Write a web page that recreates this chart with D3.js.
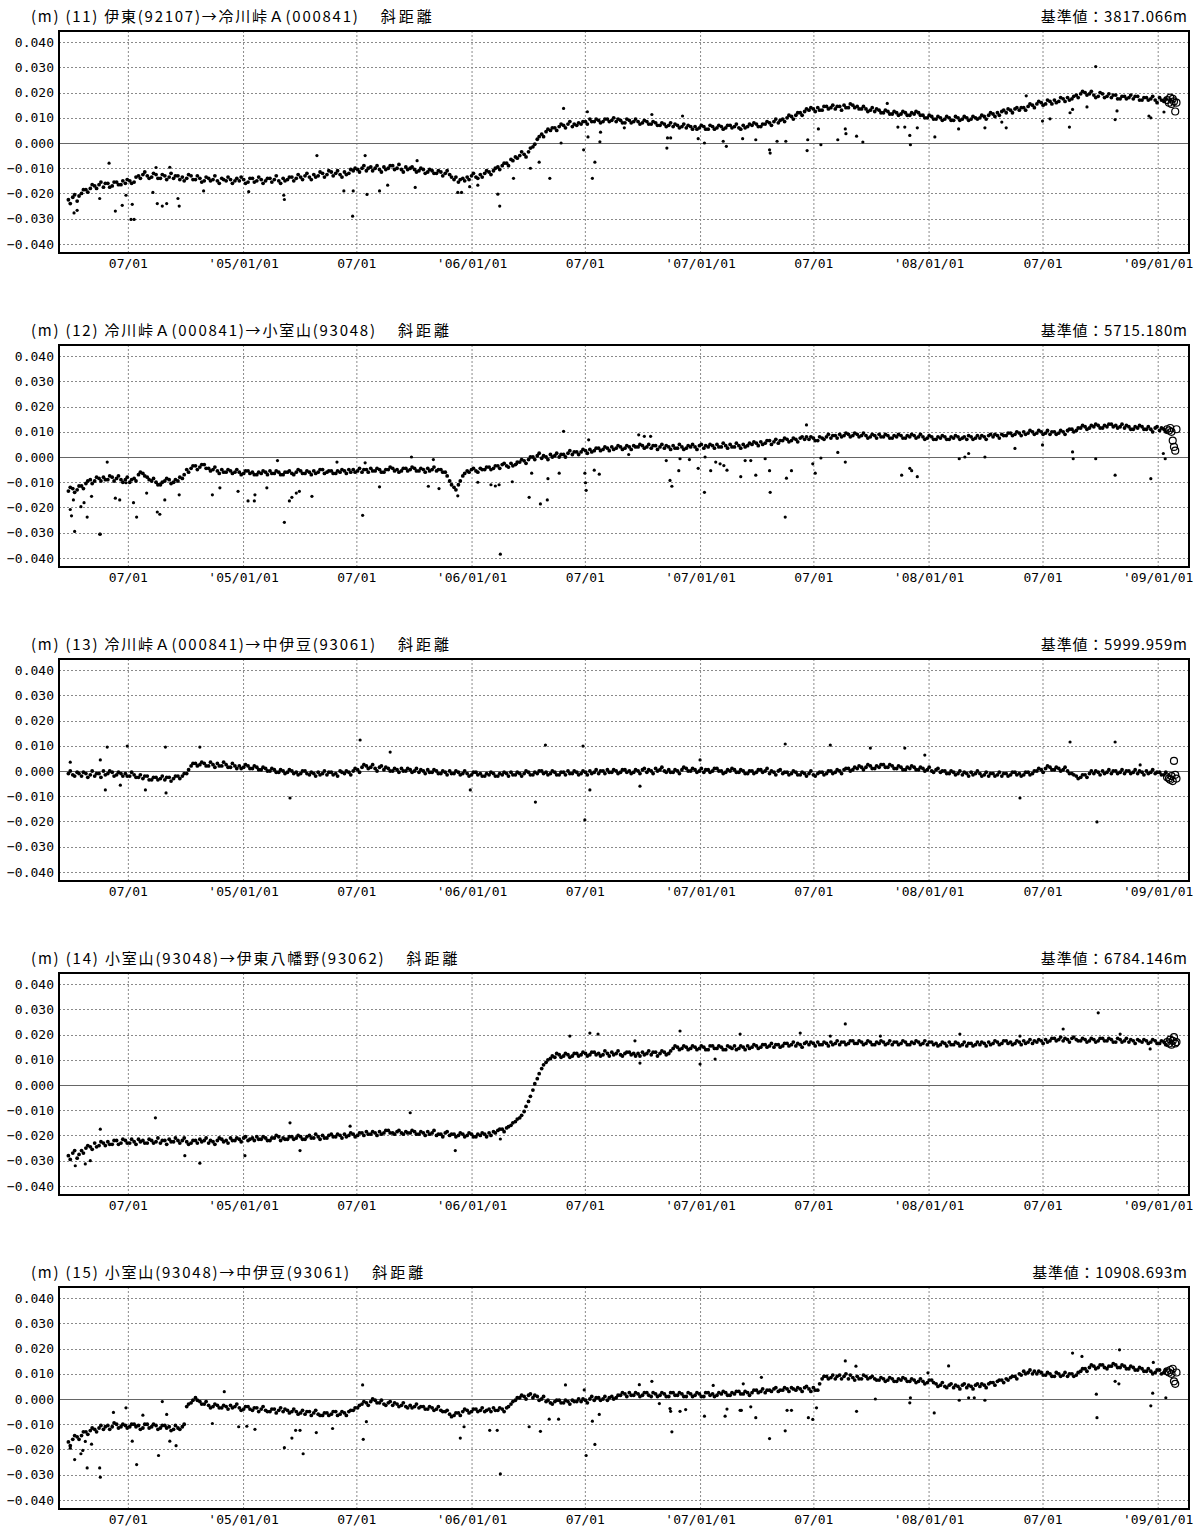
<!DOCTYPE html>
<html>
<head>
<meta charset="utf-8">
<script src="https://cdn.jsdelivr.net/npm/d3@7"></script>
<style>
body { margin: 0; background: #fff; }
svg { display: block; }
.title { font-family: "Noto Sans CJK JP", sans-serif; font-size: 15px; fill: #000; }
.num { font-family: "DejaVu Sans Mono", monospace; font-size: 13px; fill: #000; }
</style>
</head>
<body>
<svg id="chart"></svg>
<script>
// readings in mm: one series every 7 days from startDate, a second one 3 days later
let startDate = '2004-03-28';
let startDateMid = '2004-03-31';
// last readings, drawn as open circles
let recentDates = ['2009-01-16', '2009-01-19', '2009-01-21', '2009-01-23', '2009-01-25', '2009-01-27', '2009-01-29', '2009-01-31'];

let titles = [
    '(m) (11) 伊東(92107)→冷川峠Ａ(000841)',
    '(m) (12) 冷川峠Ａ(000841)→小室山(93048)',
    '(m) (13) 冷川峠Ａ(000841)→中伊豆(93061)',
    '(m) (14) 小室山(93048)→伊東八幡野(93062)',
    '(m) (15) 小室山(93048)→中伊豆(93061)'
];
let baseLabels = ['基準値：3817.066m', '基準値：5715.180m', '基準値：5999.959m', '基準値：6784.146m', '基準値：10908.693m'];

let yTicks = [-0.04, -0.03, -0.02, -0.01, 0, 0.01, 0.02, 0.03, 0.04];
let xTickDates = ['2004-07-01', '2005-01-01', '2005-07-01', '2006-01-01', '2006-07-01', '2007-01-01', '2007-07-01', '2008-01-01', '2008-07-01', '2009-01-01'];
let xTickLabels = ['07/01', "'05/01/01", '07/01', "'06/01/01", '07/01', "'07/01/01", '07/01', "'08/01/01", '07/01', "'09/01/01"];

// (11)
let weekly1 = [
    -22.5, -21.5, -23, -20, -18.5, -18, -17, -16.5, -17.5, -16, -17, -15.5, -16.5,
    -16, -15, -15.5, -13, -12.5, -13, -13.5, -12.5, -14, -13, -13.5, -14, -13,
    -13.5, -14, -13, -14.5, -14, -15, -14, -14.5, -15, -14, -15, -14.5, -15,
    -15, -14.5, -15.5, -14, -15, -14.5, -15, -14, -14.5, -15, -14, -14.5, -13.5,
    -14, -13.5, -13, -13.5, -12.5, -13, -12, -12.5, -11.5, -12, -12.5, -11.5, -12,
    -11, -10.5, -10, -11, -9.5, -10, -10.5, -9.5, -10, -9, -10, -10.5, -9.5,
    -10, -10.5, -11, -10.5, -11.5, -11, -12, -11.5, -12, -12.5, -14.5, -15.5, -14,
    -13.5, -13, -13.5, -12.5, -12, -11.5, -11, -9.5, -9, -8, -6.5, -5.5, -5,
    -4.5, -3.5, -1.5, 1.5, 3.5, 4.5, 5, 6, 6.5, 7, 7.5, 6.5, 7,
    7.5, 8.5, 9.5, 8.5, 9, 8.5, 9.5, 9, 8.5, 9, 8, 9, 8.5,
    8.5, 8, 8.5, 7.5, 8, 7, 7.5, 7, 6.5, 7, 6.5, 6, 6.5,
    6.5, 6, 6.5, 5.5, 6.5, 6, 6.5, 6, 7, 6.5, 6, 7, 6.5,
    7, 7.5, 6.5, 7.5, 8, 8.5, 8, 9.5, 10, 10.5, 11, 12, 12.5,
    13, 13.5, 14, 13, 14.5, 14, 13.5, 14.5, 15, 14, 15, 14.5, 13.5,
    13.5, 13, 12.5, 13, 12, 12.5, 11.5, 12, 11.5, 12, 11, 11.5, 12,
    11, 10, 10.5, 9.5, 10, 9.5, 10, 9, 10, 9.5, 10, 9.5, 10,
    10, 10.5, 11, 11.5, 12, 12.5, 12, 13, 13.5, 13, 14, 14.5, 15,
    15.5, 16, 15.5, 16.5, 17, 16.5, 17.5, 18, 17.5, 19, 19.5, 20, 19.5,
    19, 18.5, 19.5, 18.5, 18, 19, 17.5, 18.5, 18, 17.5, 18.5, 17, 18,
    17.5, 17, 18, 16.5
];
let mid1 = [
    -24, -20.5, -21, -18.5, -19.5, -16.5, -18, -15.5, -16, -17.5, -15.5, -16.5, -15,
    -14.5, -16, -13.5, -14, -11.5, -14, -12, -14, -12.5, -14.5, -12, -13, -14.5,
    -15, -12.5, -14.5, -13, -15.5, -13.5, -15, -13, -16, -14.5, -13.5, -16, -14,
    -13.5, -16, -14, -15.5, -13.5, -16, -14, -15.5, -13, -16, -15, -13.5, -15,
    -12.5, -14.5, -12, -14.5, -13.5, -11.5, -13.5, -11, -13, -11, -13.5, -12.5, -10.5,
    -10, -11.5, -9, -10, -11, -9, -11.5, -10.5, -9, -10.5, -8.5, -11.5, -10.5,
    -9.5, -11.5, -10, -12, -10.5, -12, -11, -13, -11, -13.5, -13.5, -14.5, -15,
    -14.5, -12, -14, -13.5, -11, -12.5, -10, -10.5, -8, -9, -7, -6, -3.5,
    -5.5, -2, -0.5, 2.5, 2.5, 5.5, 6, 5, 7.5, 6, 8.5, 7.5, 8,
    8.5, 7.5, 8.5, 9.5, 8, 9.5, 8.5, 10, 9.5, 8, 9.5, 8, 9.5,
    7.5, 9, 7.5, 8.5, 7, 8, 6.5, 8, 7.5, 6, 7.5, 7, 5.5,
    5.5, 7, 5.5, 7, 5.5, 7, 5.5, 7, 6, 7.5, 5.5, 6, 7.5,
    8, 6.5, 7.5, 8.5, 7, 9.5, 9, 8.5, 11, 9.5, 12, 11, 13.5,
    14, 12.5, 13, 14.5, 13.5, 15, 14.5, 13, 14, 15.5, 14, 13.5, 14.5,
    12.5, 14, 13.5, 12, 13, 11.5, 12.5, 11, 12.5, 11, 12, 12.5, 11,
    10, 11, 9.5, 10.5, 9, 10.5, 9, 10.5, 9, 10.5, 9, 10.5, 9.5,
    11, 9.5, 12, 10.5, 11, 13, 13.5, 12, 14, 14, 13, 15.5, 14,
    16.5, 15, 17, 15.5, 16, 18, 16.5, 17, 18.5, 18, 20.5, 19, 20.5,
    18, 20, 18, 19.5, 19, 17.5, 18.5, 17.5, 19, 18.5, 17, 18, 17,
    18.5, 16, 17, 17.5
];
let recent1 = [17, 16, 18, 15.5, 17.5, 16.5, 12.5, 16];
let outliers1 = [
    ['2004-04-06', -27.7], ['2004-04-11', -26.7], ['2004-05-17', -22], ['2004-06-01', -8], ['2004-06-11', -27],
    ['2004-06-22', -24.7], ['2004-06-28', -20.7], ['2004-07-06', -30.3], ['2004-07-11', -30.3], ['2004-07-08', -24.3],
    ['2004-08-10', -19.6], ['2004-08-15', -9.7], ['2004-08-17', -24], ['2004-08-25', -25], ['2004-09-01', -24],
    ['2004-09-06', -9.6], ['2004-09-19', -22], ['2004-09-21', -25], ['2004-10-30', -19], ['2005-01-10', -19.3],
    ['2005-03-07', -20.7], ['2005-03-08', -22.4], ['2005-04-29', -5], ['2005-06-11', -19], ['2005-06-25', -29],
    ['2005-06-26', -19], ['2005-07-15', -5], ['2005-07-18', -20.4], ['2005-08-07', -19], ['2005-08-20', -16.7],
    ['2005-10-03', -17.6], ['2005-10-06', -7], ['2005-12-10', -19.6], ['2005-12-16', -19.6], ['2005-12-29', -17.3],
    ['2006-01-11', -16.7], ['2006-02-12', -20.3], ['2006-02-15', -25], ['2006-03-09', -14], ['2006-04-05', -10],
    ['2006-04-19', -7.6], ['2006-05-06', -14], ['2006-05-24', 0], ['2006-05-28', 13.7], ['2006-06-29', -2.7],
    ['2006-07-05', 12.4], ['2006-07-06', 2.4], ['2006-07-13', -14], ['2006-07-17', -7.6], ['2006-07-25', 0.5],
    ['2006-07-26', 4.3], ['2006-09-02', 6], ['2006-10-16', 11.3], ['2006-11-09', -2], ['2006-11-10', 2],
    ['2006-11-15', 2], ['2006-12-04', 10.7], ['2006-12-29', 1.7], ['2007-01-08', 0], ['2007-02-12', -1.3],
    ['2007-02-07', 0.7], ['2007-03-10', 1.7], ['2007-03-31', 1.3], ['2007-04-22', -2.7], ['2007-04-23', -4],
    ['2007-05-04', 0.7], ['2007-05-18', 0.7], ['2007-06-21', -3], ['2007-06-22', 1.3], ['2007-07-13', -0.7],
    ['2007-07-09', 5.6], ['2007-08-09', 1.3], ['2007-08-21', 5.6], ['2007-08-22', 3.7], ['2007-09-08', 2.7],
    ['2007-09-18', 0.4], ['2007-10-27', 15.7], ['2007-11-13', 6.3], ['2007-11-24', 6.3], ['2007-12-02', 3],
    ['2007-12-03', -0.7], ['2007-12-14', 6], ['2008-01-11', 2.4], ['2008-02-18', 5.6], ['2008-03-31', 6],
    ['2008-04-27', 8.3], ['2008-05-04', 6], ['2008-06-05', 18.7], ['2008-07-01', 8.7], ['2008-07-13', 9.6],
    ['2008-08-13', 6.3], ['2008-08-14', 12], ['2008-08-18', 13.3], ['2008-09-10', 14.3], ['2008-09-24', 30.3],
    ['2008-10-25', 9.3], ['2008-10-28', 12.7], ['2008-12-18', 10.7], ['2008-12-21', 10], ['2009-01-11', 12.3]
];

// (12)
let weekly2 = [
    -13.5, -12.5, -13, -11.5, -10.5, -9, -9.5, -8.5, -8, -9, -8, -8.5, -9,
    -9, -10, -8.5, -7, -6.5, -8, -9.5, -10, -11, -9.5, -9, -10, -9.5,
    -8.5, -5, -4.5, -3.5, -4, -3, -4.5, -5, -5.5, -5, -6, -5.5, -6,
    -6, -6.5, -5.5, -6, -7, -6.5, -6, -5.5, -6.5, -6, -7, -6, -6.5,
    -6, -5.5, -6.5, -6, -5.5, -6, -5, -6, -5.5, -6.5, -6, -5.5, -5,
    -5, -5.5, -6, -5, -4.5, -5.5, -5, -6, -5, -4.5, -5, -5.5, -4.5,
    -5, -4.5, -5.5, -5, -4.5, -5, -5.5, -5, -6, -9.5, -12, -11, -7.5,
    -5.5, -5, -5.5, -4.5, -5, -4, -4.5, -3.5, -3, -3.5, -2.5, -3, -2,
    -1.5, -1, 0, 0.5, -0.5, 0, 1, 0.5, 0, 1, 1.5, 1, 2,
    2, 2.5, 3, 2.5, 3.5, 3, 3.5, 4, 3.5, 4, 3.5, 4, 4.5,
    4, 4.5, 4, 3.5, 4.5, 4, 3.5, 4, 4.5, 3.5, 4, 3.5, 4,
    4, 4.5, 3.5, 4, 4.5, 5, 4, 4.5, 5, 4, 4.5, 5, 4.5,
    5, 5.5, 6, 5.5, 6.5, 6, 5.5, 6.5, 7, 6.5, 7, 7.5, 7,
    7, 7.5, 6.5, 7.5, 8, 7.5, 8.5, 9, 8.5, 9, 8.5, 9, 8.5,
    8.5, 8, 8.5, 9, 8, 8.5, 7.5, 8, 8.5, 7.5, 8, 8.5, 8,
    8, 7.5, 8, 7, 7.5, 8, 7, 7.5, 8, 7.5, 7, 8, 7.5,
    7.5, 8, 8.5, 8, 8.5, 9, 8.5, 9.5, 9, 9.5, 10, 9.5, 10,
    9.5, 10, 9.5, 9, 10, 9.5, 10, 10.5, 11, 10.5, 11.5, 12, 11.5,
    12, 12.5, 11.5, 12, 13, 12.5, 12, 11.5, 12, 11, 11.5, 12, 11,
    11, 11.5, 10.5, 11
];
let mid2 = [
    -12, -14, -11.5, -12.5, -9.5, -10.5, -8, -9.5, -9, -7.5, -9.5, -7.5, -10,
    -8, -9, -9.5, -6, -7.5, -9, -8.5, -11, -10, -8.5, -10.5, -9, -8,
    -7, -6, -3.5, -5, -3, -4.5, -5.5, -4, -6.5, -6, -5, -6.5, -5,
    -7, -5.5, -6.5, -7, -6, -5.5, -7, -6.5, -5.5, -7, -6, -5.5, -7,
    -5, -6.5, -5.5, -7, -6.5, -5, -6.5, -5.5, -6.5, -5.5, -5, -6.5, -6,
    -6, -4.5, -5, -6, -5.5, -4.5, -6, -5, -4, -5.5, -6, -4.5, -5.5,
    -4, -5.5, -4.5, -6, -5.5, -4, -5, -6, -7.5, -11, -13, -9.5, -6.5,
    -6, -4.5, -6, -5, -4, -5, -3.5, -4.5, -2.5, -4, -3.5, -2, -1,
    -2.5, 0, -1, 1.5, 0.5, -1, 0, 1.5, 1, 0, 2.5, 2, 1,
    3, 1.5, 2, 3.5, 2.5, 4, 2.5, 3, 4.5, 3, 4.5, 3, 4,
    5, 3.5, 5, 4.5, 3, 5, 4.5, 3, 3.5, 5, 3, 4.5, 5,
    3, 5, 4.5, 5, 3.5, 4, 5.5, 3.5, 4, 5.5, 3.5, 4, 5.5,
    6, 4.5, 5, 6.5, 5, 7, 6.5, 7.5, 6, 7.5, 6, 8, 8,
    8, 6.5, 8, 7, 9, 8.5, 7.5, 8, 9.5, 8, 9.5, 8, 9.5,
    7.5, 9, 7.5, 8, 9, 7.5, 8.5, 9, 7.5, 8.5, 9, 7.5, 9,
    7, 8.5, 7, 8, 8.5, 7, 8, 8.5, 7, 8, 8.5, 7, 8.5,
    8.5, 7, 9, 9, 7.5, 8.5, 9.5, 8.5, 10, 8.5, 9, 10.5, 9,
    10.5, 9, 10.5, 10, 9, 10.5, 9, 11, 10, 11.5, 12.5, 11, 12.5,
    13, 11.5, 12.5, 13, 12, 11.5, 13, 12.5, 11, 12, 12.5, 11, 12,
    10, 12, 11.5, 10
];
let recent2 = [11, 10.5, 11.5, 10, 6.5, 4, 2.5, 11];
let outliers2 = [
    ['2004-03-31', -20.8], ['2004-04-02', -23.3], ['2004-04-07', -29.5], ['2004-04-05', -17], ['2004-04-17', -19.7],
    ['2004-04-22', -18.1], ['2004-04-27', -23.8], ['2004-05-04', -15.6], ['2004-05-17', -30.6], ['2004-05-18', -30.6],
    ['2004-05-29', -2], ['2004-06-11', -16.3], ['2004-06-18', -17], ['2004-06-28', -10.2], ['2004-07-10', -18.1],
    ['2004-07-15', -23.8], ['2004-07-31', -14.3], ['2004-08-17', -21.8], ['2004-08-21', -22.7], ['2004-08-29', -17],
    ['2004-09-21', -15], ['2004-11-13', -15], ['2004-11-25', -12.2], ['2004-12-24', -13.6], ['2005-01-09', -17.4],
    ['2005-01-19', -17.4], ['2005-01-20', -15], ['2005-02-08', -12.2], ['2005-02-25', -1.4], ['2005-03-08', -25.9],
    ['2005-03-16', -17.4], ['2005-03-20', -16], ['2005-03-27', -14.3], ['2005-04-01', -13.6], ['2005-04-21', -15.6],
    ['2005-05-31', -2], ['2005-07-11', -23.1], ['2005-07-15', -2.3], ['2005-08-07', -11.8], ['2005-09-27', 0],
    ['2005-10-24', -11.6], ['2005-11-01', -1], ['2005-11-10', -12.5], ['2005-12-10', -15.4], ['2006-01-11', -10],
    ['2006-02-01', -11], ['2006-02-08', -11.5], ['2006-02-14', -11], ['2006-02-16', -38.5], ['2006-03-07', -9.8],
    ['2006-03-14', -2.7], ['2006-04-03', -16], ['2006-04-07', -6.4], ['2006-04-21', -18.6], ['2006-05-02', -17],
    ['2006-05-03', -8.6], ['2006-05-21', -6.4], ['2006-05-28', 10.2], ['2006-07-01', -6.4], ['2006-07-02', -10.2],
    ['2006-07-03', -13.2], ['2006-07-07', 6.8], ['2006-07-16', -5.2], ['2006-07-24', -6.8], ['2006-09-09', 1],
    ['2006-09-25', 8.8], ['2006-10-04', 8.2], ['2006-10-14', 8.2], ['2006-11-08', -1.4], ['2006-11-14', -9.3],
    ['2006-11-17', -11.6], ['2006-11-28', -5.4], ['2006-11-30', -0.7], ['2006-12-15', -1], ['2006-12-29', -4.5],
    ['2007-01-08', -14], ['2007-01-09', 0], ['2007-01-18', -5.4], ['2007-01-26', -2], ['2007-02-02', -2.7],
    ['2007-02-08', -3.4], ['2007-02-13', -5.2], ['2007-03-07', -7.8], ['2007-03-14', -1.4], ['2007-03-23', -1.4],
    ['2007-03-31', -7.2], ['2007-04-15', -0.7], ['2007-04-22', -5.4], ['2007-04-23', -14], ['2007-05-17', -23.8],
    ['2007-05-19', -8.4], ['2007-05-27', -5.4], ['2007-06-20', 12.7], ['2007-06-30', -2.7], ['2007-07-04', -6.4],
    ['2007-07-13', -0.4], ['2007-08-09', 1.8], ['2007-08-21', -2], ['2007-11-19', -7.2], ['2007-12-02', -4.5],
    ['2007-12-05', -5.4], ['2007-12-14', -7.8], ['2008-02-19', -0.7], ['2008-02-28', 0], ['2008-03-05', 1.4],
    ['2008-03-31', 0], ['2008-05-18', 3.4], ['2008-07-01', 4.8], ['2008-08-18', 2], ['2008-08-19', -0.7],
    ['2008-09-24', -0.7], ['2008-10-25', -7.2], ['2008-12-21', -8.6], ['2009-01-10', 1.4], ['2009-01-13', -0.7]
];

// (13)
let weekly3 = [
    -1, -1.5, -0.5, -2, -1, -1.5, -2, -1, 0, -1, -0.5, -1.5, -1,
    -1, -2, -1.5, -2.5, -3, -2, -3.5, -2.5, -3, -3.5, -2.5, -3, -2,
    -2, -1, 2, 3, 2.5, 3, 2, 2.5, 3, 2, 2.5, 1.5, 2,
    2, 1.5, 2, 1, 1.5, 0.5, 1, 0, 0.5, -0.5, 0, -0.5, 0,
    -0.5, -1, 0, -1.5, -1, -0.5, -1, -1.5, -0.5, -1, 0, -1, -0.5,
    0, 0.5, 1.5, 2, 1.5, 1, 1.5, 0.5, 1, 0, 0.5, 1, 0,
    0.5, 0, -0.5, 0, 0.5, -0.5, 0, -1, -0.5, 0, -1, -0.5, -1,
    -1, -1.5, -0.5, -1, -2, -1.5, -1, -2, -1.5, -1, -0.5, -1.5, -1,
    -1, -0.5, -1.5, -1, 0, -0.5, -1, -0.5, -1.5, -0.5, 0, -1, -0.5,
    -1, -0.5, 0, -0.5, -1, 0, 0.5, -0.5, 0, -0.5, 0.5, 0, -0.5,
    0, 0.5, -0.5, 0, 1, 0.5, 0, 0.5, -0.5, 0, 0.5, 1, 0,
    0.5, 0, -0.5, 0.5, 0, 1, 0, -0.5, 0, 0.5, -0.5, 0, -1,
    0, -0.5, 0.5, 0, -1, -0.5, 0, -1, -0.5, -1, -0.5, -1.5, -1,
    -1, -1.5, -1, -0.5, -1, 0, -0.5, 0, 0.5, 1, 0.5, 1, 1.5,
    1.5, 2, 1, 1.5, 2.5, 1.5, 2, 1, 1.5, 0.5, 1, 1.5, 0.5,
    1, 0.5, 0, 0.5, -0.5, 0, -1, -0.5, -1, -1.5, -1, -0.5, -1,
    -1, -1.5, -2, -1, -1.5, -2, -1, -1.5, -0.5, -1, -1.5, -0.5, -1,
    0, 0.5, 1, 1.5, 0.5, 1, 0.5, 0, -1, -2, -2.5, -1.5, -1,
    -1, -0.5, 0, -0.5, -1, 0, -0.5, -1, 0, -0.5, -1, -0.5, 0,
    -0.5, -1, -0.5, -1.5
];
let mid3 = [
    0, -2, -1, -0.5, -2.5, 0, -1, -2.5, -1.5, 0, -2, -0.5, -2,
    -2, -0.5, -2.5, -1.5, -2, -3.5, -2.5, -3.5, -2, -2.5, -4, -2, -3,
    -1, 0.5, 3, 2, 3.5, 2, 3.5, 1.5, 2, 3.5, 1.5, 3, 1,
    1, 2.5, 1, 2, 0.5, 1.5, 0, 1, -0.5, 0.5, -1, 0.5, -1,
    -1.5, 0, -1, -0.5, -2, -1.5, 0, -0.5, -1.5, -2, -0.5, 0, -1.5,
    1, -0.5, 2.5, 1, 2.5, 0, 2, 1.5, 0, 1, -0.5, 0, 1,
    -0.5, 1, 0.5, -1, -0.5, 0.5, -1, 0, -1.5, -1, 0, -1.5, 0,
    -2, -0.5, -1.5, -2, -1, -0.5, -2, -1, -0.5, -2, -1.5, -0.5, -2,
    0, -1.5, -0.5, 0, -1, -1.5, 0, -1.5, -0.5, -1.5, -1, 0, -1.5,
    0, -1.5, -1, 0.5, 0, -1, -0.5, 0.5, -1, 0.5, -0.5, -1, 0.5,
    -1, 1, 0.5, -1, 0, 1.5, -0.5, -0.5, 0.5, -1, 1.5, 0, 1,
    -0.5, 1, 0.5, -0.5, 1, 0, -1, 0.5, 1, -0.5, 0.5, -1, 0,
    -1, 0.5, -0.5, 1, 0, -1.5, 0.5, -0.5, -1.5, 0, -1.5, -0.5, -2,
    0, -2, -0.5, -1.5, 0, -1, 0.5, -1, 1, 0, 1.5, 2, 0.5,
    2.5, 1, 2, 2.5, 1.5, 2.5, 1, 2, 0.5, 1.5, 2, 0.5, 1.5,
    0, 1.5, -0.5, 1, 0, -1, 0, -1.5, 0, -0.5, -2, -1.5, 0,
    -2, -0.5, -1, -2, -0.5, -1, -2, -0.5, -1.5, -2, -0.5, -1.5, 0,
    1, -0.5, 2, 0.5, 1.5, 0, 1.5, -1, -1.5, -3, -1.5, -2.5, 0,
    0, -1.5, -1, 0.5, 0, -1, 0.5, 0, -1, 0.5, 0, -1.5, -1,
    0.5, -0.5, -1.5, -0.5
];
let recent3 = [-2.5, -3, -3.5, -2, -4, 4, -1.5, -3];
let outliers3 = [
    ['2004-03-31', 3.5], ['2004-05-18', 4.4], ['2004-05-29', 9.5], ['2004-06-30', 9.9], ['2004-08-30', 9.5],
    ['2004-10-24', 9.5], ['2004-05-26', -7.5], ['2004-06-19', -5.6], ['2004-07-29', -7.5], ['2004-08-31', -8.7],
    ['2005-03-17', -10.7], ['2005-07-07', 12.3], ['2005-08-24', 7.5], ['2005-12-30', -7.5], ['2006-04-13', -12.3],
    ['2006-04-29', 10.3], ['2006-06-28', 9.9], ['2006-07-01', -19.4], ['2006-07-09', -7.5], ['2006-09-27', -6],
    ['2007-01-01', 4.4], ['2007-05-17', 10.7], ['2007-07-28', 10.3], ['2007-09-30', 9.1], ['2007-11-24', 9.1],
    ['2007-12-26', 6.3], ['2008-05-26', -10.7], ['2008-08-14', 11.5], ['2008-09-26', -20.2], ['2008-10-25', 11.5],
    ['2008-12-04', 2.4]
];

// (14)
let weekly4 = [
    -28, -27, -29, -26, -25, -24.5, -23, -24, -23, -22.5, -23.5, -22, -23,
    -22, -23, -22.5, -21.5, -22, -23, -22, -22.5, -23, -22, -21.5, -22.5, -22,
    -22, -22.5, -23, -22, -21.5, -22, -23, -22.5, -22, -21.5, -22, -21, -22,
    -21.5, -21, -22, -21, -20.5, -21.5, -21, -22, -21, -20.5, -21, -21.5, -20.5,
    -21, -20.5, -21.5, -20, -21, -20.5, -20, -21, -19.5, -20.5, -20, -19.5, -20,
    -19.5, -20, -19, -18.5, -19.5, -19, -18.5, -19, -18, -19, -18.5, -19, -18.5,
    -19, -18.5, -19.5, -19, -18.5, -19, -20, -19.5, -19, -20, -19.5, -20, -19.5,
    -20, -19.5, -20.5, -20, -19.5, -19, -18.5, -18, -17.5, -17, -16, -14.5, -13,
    -10.5, -6.5, -2, 2.5, 6.5, 9, 10.5, 11, 12, 11.5, 12, 11.5, 12.5,
    12, 12.5, 12, 13, 12.5, 12, 12.5, 13, 12.5, 12, 12.5, 13, 12.5,
    12.5, 13, 12.5, 12, 13, 12.5, 13, 12.5, 14.5, 15, 14.5, 15, 14.5,
    15, 14.5, 15, 14, 15.5, 14.5, 15, 14, 15, 15.5, 14.5, 15, 15.5,
    15, 15.5, 15, 16, 15.5, 15, 16, 15.5, 16.5, 16, 15.5, 16, 16.5,
    16, 16.5, 17, 16, 16.5, 17, 16.5, 16, 17, 16.5, 17.5, 16.5, 17,
    16.5, 17, 16, 16.5, 17, 16.5, 16, 17, 16.5, 17, 16, 16.5, 17,
    16.5, 16, 17, 16.5, 16, 16.5, 17, 16, 16.5, 16, 15.5, 16.5, 16,
    16, 16.5, 17, 16.5, 17, 16.5, 17.5, 17, 16.5, 17, 17.5, 17, 16.5,
    17, 17.5, 18, 17.5, 18.5, 18, 17.5, 18, 18.5, 18, 17.5, 18, 17.5,
    18, 17.5, 18.5, 17.5, 18, 17, 18, 17.5, 17, 17.5, 18, 17, 17.5,
    17, 17.5, 16.5, 17
];
let mid4 = [
    -29.5, -26, -27.5, -27, -24, -25.5, -24.5, -22.5, -24, -23.5, -22, -23.5, -21.5,
    -23, -21.5, -23.5, -22.5, -23, -21.5, -23, -21, -22, -23.5, -22.5, -21, -23,
    -21, -23.5, -22, -23, -22.5, -21, -22, -23.5, -21, -22.5, -23, -22, -21,
    -22.5, -20.5, -21.5, -22, -21.5, -20.5, -22, -21, -20, -22, -21.5, -20.5, -21.5,
    -20, -21.5, -20.5, -21, -19.5, -21.5, -21, -20, -20.5, -19.5, -21, -20.5, -19,
    -20.5, -19, -20, -19.5, -18.5, -20, -19.5, -18, -19, -19.5, -18, -19.5, -19,
    -18, -19.5, -18.5, -20, -19.5, -18, -19.5, -20.5, -18.5, -19.5, -20.5, -19, -20.5,
    -19, -20.5, -19.5, -19, -20.5, -20, -19, -17.5, -18.5, -16.5, -15, -13.5, -12,
    -8.5, -4.5, 0.5, 4.5, 8, 10, 11.5, 12.5, 11, 12.5, 11, 12.5, 11.5,
    13, 11.5, 13, 12, 11.5, 13.5, 11.5, 12, 13.5, 11.5, 13, 12, 11.5,
    11.5, 12, 13.5, 13, 11.5, 13.5, 12, 13.5, 15.5, 14, 15.5, 14, 15.5,
    14, 15.5, 14, 15.5, 14.5, 15.5, 14, 15.5, 14.5, 14, 15.5, 14, 14.5,
    16, 14.5, 16, 15, 16.5, 16, 15, 16.5, 15.5, 17, 16.5, 15, 17,
    17, 15.5, 16, 17, 15.5, 16, 17.5, 17, 16, 17.5, 16.5, 17.5, 16,
    17.5, 16, 17, 17.5, 16, 17.5, 17, 16, 17.5, 16, 17, 17.5, 16,
    17.5, 17, 16, 15.5, 17, 15.5, 16, 17, 15.5, 17, 16.5, 15.5, 17,
    17, 15.5, 16, 17.5, 16, 17.5, 16.5, 16, 17.5, 16, 16.5, 18, 17.5,
    18, 16.5, 17, 18.5, 17.5, 19, 18.5, 17, 19, 17.5, 18.5, 17, 18.5,
    17, 18.5, 17.5, 18.5, 17, 18.5, 17, 18.5, 18, 16.5, 17.5, 18, 16.5,
    18, 16.5, 17.5, 16
];
let recent4 = [17, 16.5, 18, 16, 17.5, 19, 16.5, 17];
let outliers4 = [
    ['2004-04-08', -32], ['2004-04-24', -31.3], ['2004-05-02', -30], ['2004-05-18', -17.5], ['2004-08-14', -13],
    ['2004-09-30', -28], ['2004-10-24', -31], ['2005-01-04', -28], ['2005-03-17', -15], ['2005-04-02', -26],
    ['2005-06-21', -16.3], ['2005-09-25', -11], ['2005-12-06', -26], ['2006-02-16', -21.4], ['2006-06-07', 19.4],
    ['2006-07-09', 20.6], ['2006-07-22', 20.2], ['2006-09-19', 17.5], ['2006-09-27', 8.7], ['2006-11-30', 21.4],
    ['2007-01-01', 8.3], ['2007-01-25', 10.3], ['2007-03-06', 20.2], ['2007-06-10', 20.6], ['2007-07-28', 19.4],
    ['2007-08-21', 24.2], ['2007-10-16', 19.4], ['2008-02-20', 20.2], ['2008-05-26', 19.4], ['2008-08-03', 22.2],
    ['2008-09-28', 28.6], ['2008-11-02', 20.2], ['2008-12-20', 14.3]
];

// (15)
let weekly5 = [
    -17, -16, -15, -14.5, -13, -12.5, -12, -11.5, -12, -10.5, -11, -10, -11,
    -10.5, -11, -10, -10.5, -11.5, -10, -11, -10.5, -11.5, -10.5, -11, -12, -11.5,
    -11, -3, -1.5, 0.5, -1, -2, -2.5, -3, -2.5, -3.5, -3, -2.5, -3,
    -3.5, -4, -3, -4.5, -3.5, -4, -4.5, -5, -4, -4.5, -5, -4.5, -5,
    -5, -5.5, -6, -5, -5.5, -6, -6.5, -5.5, -6, -5, -6, -5.5, -5,
    -4.5, -3.5, -2, -1.5, -1, -0.5, -1.5, -2, -1.5, -2.5, -2, -2.5, -3,
    -2.5, -3, -3.5, -3, -4, -3.5, -4, -4.5, -5, -6, -6.5, -5.5, -5,
    -4.5, -5, -4, -4.5, -5, -4, -3.5, -4.5, -4, -3.5, -2, -0.5, 0.5,
    1, 1.5, 0.5, 1, 0, -1, -1.5, -1, -0.5, -1.5, -1, -0.5, -1,
    -1, -0.5, 0, -0.5, 0.5, 0, -0.5, 1, 0.5, 1.5, 2, 2.5, 1.5,
    2, 1.5, 2.5, 1, 2, 1.5, 2, 1, 2.5, 1.5, 2, 1, 2,
    1.5, 2, 1, 2.5, 2, 1.5, 2, 2.5, 1.5, 2, 3, 2, 2.5,
    2.5, 3.5, 3, 2.5, 3.5, 4, 3, 3.5, 4, 4.5, 3.5, 4, 4.5,
    4, 4.5, 3.5, 8, 9, 8.5, 8, 9.5, 9, 8, 8.5, 9, 8,
    9, 8.5, 8, 7.5, 8, 7.5, 8, 7, 7.5, 8, 7, 7.5, 7,
    7, 6.5, 7.5, 6, 5.5, 5, 5.5, 4.5, 5, 5.5, 4.5, 5, 5.5,
    5, 5.5, 6, 6.5, 7, 7.5, 8, 8.5, 9, 10, 11, 10.5, 10,
    10, 10.5, 9.5, 10, 9, 10, 9.5, 9, 10, 9.5, 11, 12, 12.5,
    13, 12.5, 13.5, 12, 13, 13.5, 12.5, 13, 12, 12.5, 11.5, 12, 11,
    11, 10.5, 11.5, 10.5
];
let mid5 = [
    -18.5, -14.5, -16, -13, -14, -11.5, -13, -10.5, -11, -12, -9.5, -11.5, -10,
    -11.5, -10, -11, -12, -10, -11.5, -10, -12, -10.5, -11.5, -12.5, -10.5, -12,
    -10, -2, -0.5, -0.5, -2, -1, -3.5, -2, -3.5, -2.5, -4, -3.5, -2,
    -4.5, -3, -4, -3.5, -5, -3, -5, -4, -5.5, -3.5, -4, -5.5, -4,
    -6, -4.5, -5, -6.5, -4.5, -6.5, -5.5, -6.5, -5, -6.5, -5, -6.5, -4.5,
    -3.5, -2.5, -1, -2.5, 0, -1.5, -0.5, -2.5, -1, -1.5, -3, -1.5, -3.5,
    -3.5, -2, -3, -4, -3, -4.5, -3, -5, -4.5, -7, -5.5, -6.5, -4,
    -5.5, -4, -5, -3.5, -4.5, -5, -4.5, -3.5, -5, -3, -1, 0.5, 1.5,
    0, 2, 1.5, -0.5, 1, -0.5, -2, -0.5, -1.5, -0.5, -2, -1, 0,
    0, -1.5, 1, 0.5, -0.5, 1, 0.5, 0, 1.5, 2.5, 1, 1.5, 2.5,
    1, 2.5, 1.5, 2.5, 1, 2.5, 1, 2.5, 1.5, 2.5, 1, 2.5, 1,
    2.5, 1, 2.5, 1.5, 1, 2.5, 3, 1.5, 2.5, 3, 2, 3, 1.5,
    3.5, 2.5, 4, 3.5, 3, 4.5, 3.5, 4.5, 3, 4, 4.5, 3, 5,
    3, 3.5, 6, 9, 8, 9.5, 9, 8, 10, 9.5, 7.5, 8, 9.5,
    8, 9, 7.5, 8.5, 7, 8.5, 7, 8, 8.5, 7, 8, 6.5, 8,
    6, 7.5, 6.5, 5, 6.5, 4.5, 6, 5.5, 4, 6, 5.5, 4, 6,
    6, 4.5, 6.5, 5.5, 7.5, 6.5, 7.5, 9, 8, 9.5, 10, 11.5, 11,
    11, 9.5, 10.5, 9, 10.5, 9, 10.5, 10, 9, 10.5, 12, 11, 13.5,
    12, 13.5, 12.5, 13, 14, 12.5, 13.5, 12, 13, 11.5, 12.5, 11, 12,
    10, 11.5, 10, 11.5
];
let recent5 = [11, 10.5, 11.5, 10, 12, 7, 6, 10.5];
let outliers5 = [
    ['2004-03-31', -19.5], ['2004-04-07', -24], ['2004-04-17', -21.7], ['2004-04-20', -20.4], ['2004-04-24', -16.8],
    ['2004-04-27', -27.3], ['2004-05-04', -17.9], ['2004-05-17', -27.3], ['2004-05-18', -31], ['2004-06-08', -5.3],
    ['2004-06-28', -3.5], ['2004-07-08', -16.7], ['2004-07-15', -26], ['2004-07-25', -6.4], ['2004-08-19', -22.4],
    ['2004-08-25', -1], ['2004-09-01', -6.1], ['2004-09-06', -16.7], ['2004-09-16', -18.5], ['2004-11-13', -9.7],
    ['2004-12-02', 2.9], ['2004-12-25', -11], ['2005-01-07', -10.8], ['2005-01-20', -12], ['2005-03-08', -19.3],
    ['2005-03-20', -15.5], ['2005-03-26', -12.4], ['2005-04-02', -12.4], ['2005-04-07', -21.7], ['2005-04-28', -13.3],
    ['2005-05-24', -11.7], ['2005-07-11', 5.6], ['2005-07-12', -16], ['2005-07-17', -9], ['2005-12-14', -15.5],
    ['2005-12-20', -11], ['2006-01-30', -12.4], ['2006-02-11', -12.4], ['2006-02-16', -29.7], ['2006-04-03', -11],
    ['2006-04-21', -12.8], ['2006-05-05', -8], ['2006-05-20', -8], ['2006-05-31', 5.6], ['2006-06-30', 3.6],
    ['2006-07-03', -22.4], ['2006-07-13', -8.8], ['2006-07-17', -18], ['2006-07-24', -6.1], ['2006-09-26', 5.7],
    ['2006-10-16', 7], ['2006-10-28', -1.8], ['2006-11-14', -3.8], ['2006-11-15', -4.9], ['2006-11-17', -13],
    ['2006-11-30', -4.9], ['2006-12-09', -4.2], ['2007-01-08', -6.8], ['2007-01-22', 5.4], ['2007-02-10', -6.8],
    ['2007-02-13', -4], ['2007-03-06', -4.5], ['2007-03-08', -4.5], ['2007-03-11', 6], ['2007-03-23', -3.1],
    ['2007-03-31', -7.4], ['2007-04-09', 8.6], ['2007-04-22', -15.7], ['2007-05-17', -12.6], ['2007-05-20', -4.5],
    ['2007-05-27', -4.5], ['2007-06-23', -7.4], ['2007-06-30', -8.1], ['2007-07-06', -3.5], ['2007-08-21', 15.1],
    ['2007-09-08', -4.9], ['2007-09-07', 13], ['2007-10-08', 0], ['2007-12-02', -1.5], ['2007-12-03', 0.5],
    ['2007-12-31', 10.4], ['2008-01-10', -5.5], ['2008-02-02', 13.1], ['2008-02-19', -0.5], ['2008-03-05', 0.5],
    ['2008-03-14', 0.5], ['2008-03-31', -0.5], ['2008-08-18', 18.2], ['2008-09-02', 16.9], ['2008-09-25', 1.9],
    ['2008-09-26', -7.4], ['2008-10-25', 7], ['2008-10-31', 6], ['2008-11-01', 19.5], ['2008-12-21', -2.7],
    ['2008-12-24', 2.3], ['2008-12-25', 14.5], ['2009-01-14', 0.5]
];

let weeklies = [weekly1, weekly2, weekly3, weekly4, weekly5];
let mids = [mid1, mid2, mid3, mid4, mid5];
let recents = [recent1, recent2, recent3, recent4, recent5];
let outliers = [outliers1, outliers2, outliers3, outliers4, outliers5];

let width = 1201, height = 1526;
let panelStep = 314; // vertical distance between panels
let plotLeft = 59, plotRight = 1189, plotTop = 31, plotBottom = 253;

let parse = d3.utcParse('%Y-%m-%d');
let start = parse(startDate);
let startMid = parse(startDateMid);

let svg = d3.select('#chart').attr('width', width).attr('height', height);

let xScale = d3.scaleUtc()
    .domain([parse('2004-03-13'), parse('2009-02-20')])
    .range([plotLeft, plotRight]);
let yScale = d3.scaleLinear()
    .domain([-0.0436, 0.0444])
    .range([plotBottom, plotTop]);

// rough width of the header text: full-width glyphs vs half-width
let headerWidth = (s) => {
    let w = 0;
    for (let c of s) w += c.charCodeAt(0) > 0x2000 ? 17.2 : 8.6;
    return w;
};

let fmtY = (d) => (d < 0 ? '\u2212' : '') + Math.abs(d).toFixed(3);

let drawPanel = (i) => {
    let g = svg.append('g').attr('transform', `translate(0, ${i * panelStep})`);

    // header
    let tw = headerWidth(titles[i]);
    g.append('text').attr('class', 'title')
        .attr('x', 31).attr('y', 22)
        .attr('textLength', tw).attr('lengthAdjust', 'spacing')
        .text(titles[i]);
    g.append('text').attr('class', 'title')
        .attr('x', 31 + tw + 23).attr('y', 22)
        .attr('textLength', 51).attr('lengthAdjust', 'spacing')
        .text('斜距離');
    g.append('text').attr('class', 'title')
        .attr('x', 1187).attr('y', 22)
        .attr('text-anchor', 'end')
        .attr('textLength', headerWidth(baseLabels[i]))
        .attr('lengthAdjust', 'spacing')
        .text(baseLabels[i]);

    // grid
    g.append('g').selectAll('line')
        .data(xTickDates)
        .enter()
        .append('line')
        .attr('x1', (d) => xScale(parse(d)) + 0.5)
        .attr('x2', (d) => xScale(parse(d)) + 0.5)
        .attr('y1', plotTop).attr('y2', plotBottom)
        .attr('stroke', '#8a8a8a').attr('stroke-width', 1)
        .attr('stroke-dasharray', '2,2');

    g.append('g').selectAll('line')
        .data(yTicks)
        .enter()
        .append('line')
        .attr('x1', plotLeft).attr('x2', plotRight)
        .attr('y1', (d) => Math.round(yScale(d)) + 0.5)
        .attr('y2', (d) => Math.round(yScale(d)) + 0.5)
        .attr('stroke', (d) => (d === 0 ? '#666' : '#8a8a8a'))
        .attr('stroke-width', 1)
        .attr('stroke-dasharray', (d) => (d === 0 ? null : '2,2'));

    // readings in the main band, then the scattered ones
    let pts = weeklies[i].map((v, k) => [d3.utcDay.offset(start, k * 7), v / 1000]);
    let ptsMid = mids[i].map((v, k) => [d3.utcDay.offset(startMid, k * 7), v / 1000]);
    let extra = outliers[i].map((d) => [parse(d[0]), d[1] / 1000]);

    g.append('g').selectAll('circle')
        .data(pts.concat(ptsMid))
        .enter()
        .append('circle')
        .attr('cx', (d) => xScale(d[0]))
        .attr('cy', (d) => yScale(d[1]))
        .attr('r', 1.9)
        .attr('fill', '#000');

    g.append('g').selectAll('circle')
        .data(extra)
        .enter()
        .append('circle')
        .attr('cx', (d) => xScale(d[0]))
        .attr('cy', (d) => yScale(d[1]))
        .attr('r', 1.6)
        .attr('fill', '#000');

    // most recent readings as open circles
    g.append('g').selectAll('circle')
        .data(recents[i].map((v, k) => [parse(recentDates[k]), v / 1000]))
        .enter()
        .append('circle')
        .attr('cx', (d) => xScale(d[0]))
        .attr('cy', (d) => yScale(d[1]))
        .attr('r', 3.5)
        .attr('fill', 'none')
        .attr('stroke', '#000')
        .attr('stroke-width', 1.2);

    // frame
    g.append('rect')
        .attr('x', plotLeft).attr('y', plotTop)
        .attr('width', plotRight - plotLeft).attr('height', plotBottom - plotTop)
        .attr('fill', 'none').attr('stroke', '#000').attr('stroke-width', 2);

    // axes
    let yAxis = d3.axisLeft(yScale).tickValues(yTicks).tickSize(0).tickPadding(5).tickFormat(fmtY);
    let ya = g.append('g').attr('transform', `translate(${plotLeft}, 0)`).call(yAxis);
    ya.select('.domain').remove();
    ya.selectAll('text').attr('class', 'num');

    let xAxis = d3.axisBottom(xScale)
        .tickValues(xTickDates.map(parse))
        .tickSize(0).tickPadding(6)
        .tickFormat((d, k) => xTickLabels[k]);
    let xa = g.append('g').attr('transform', `translate(0, ${plotBottom})`).call(xAxis);
    xa.select('.domain').remove();
    xa.selectAll('text').attr('class', 'num');
};

for (let i = 0; i < 5; i++) drawPanel(i);
</script>
</body>
</html>
